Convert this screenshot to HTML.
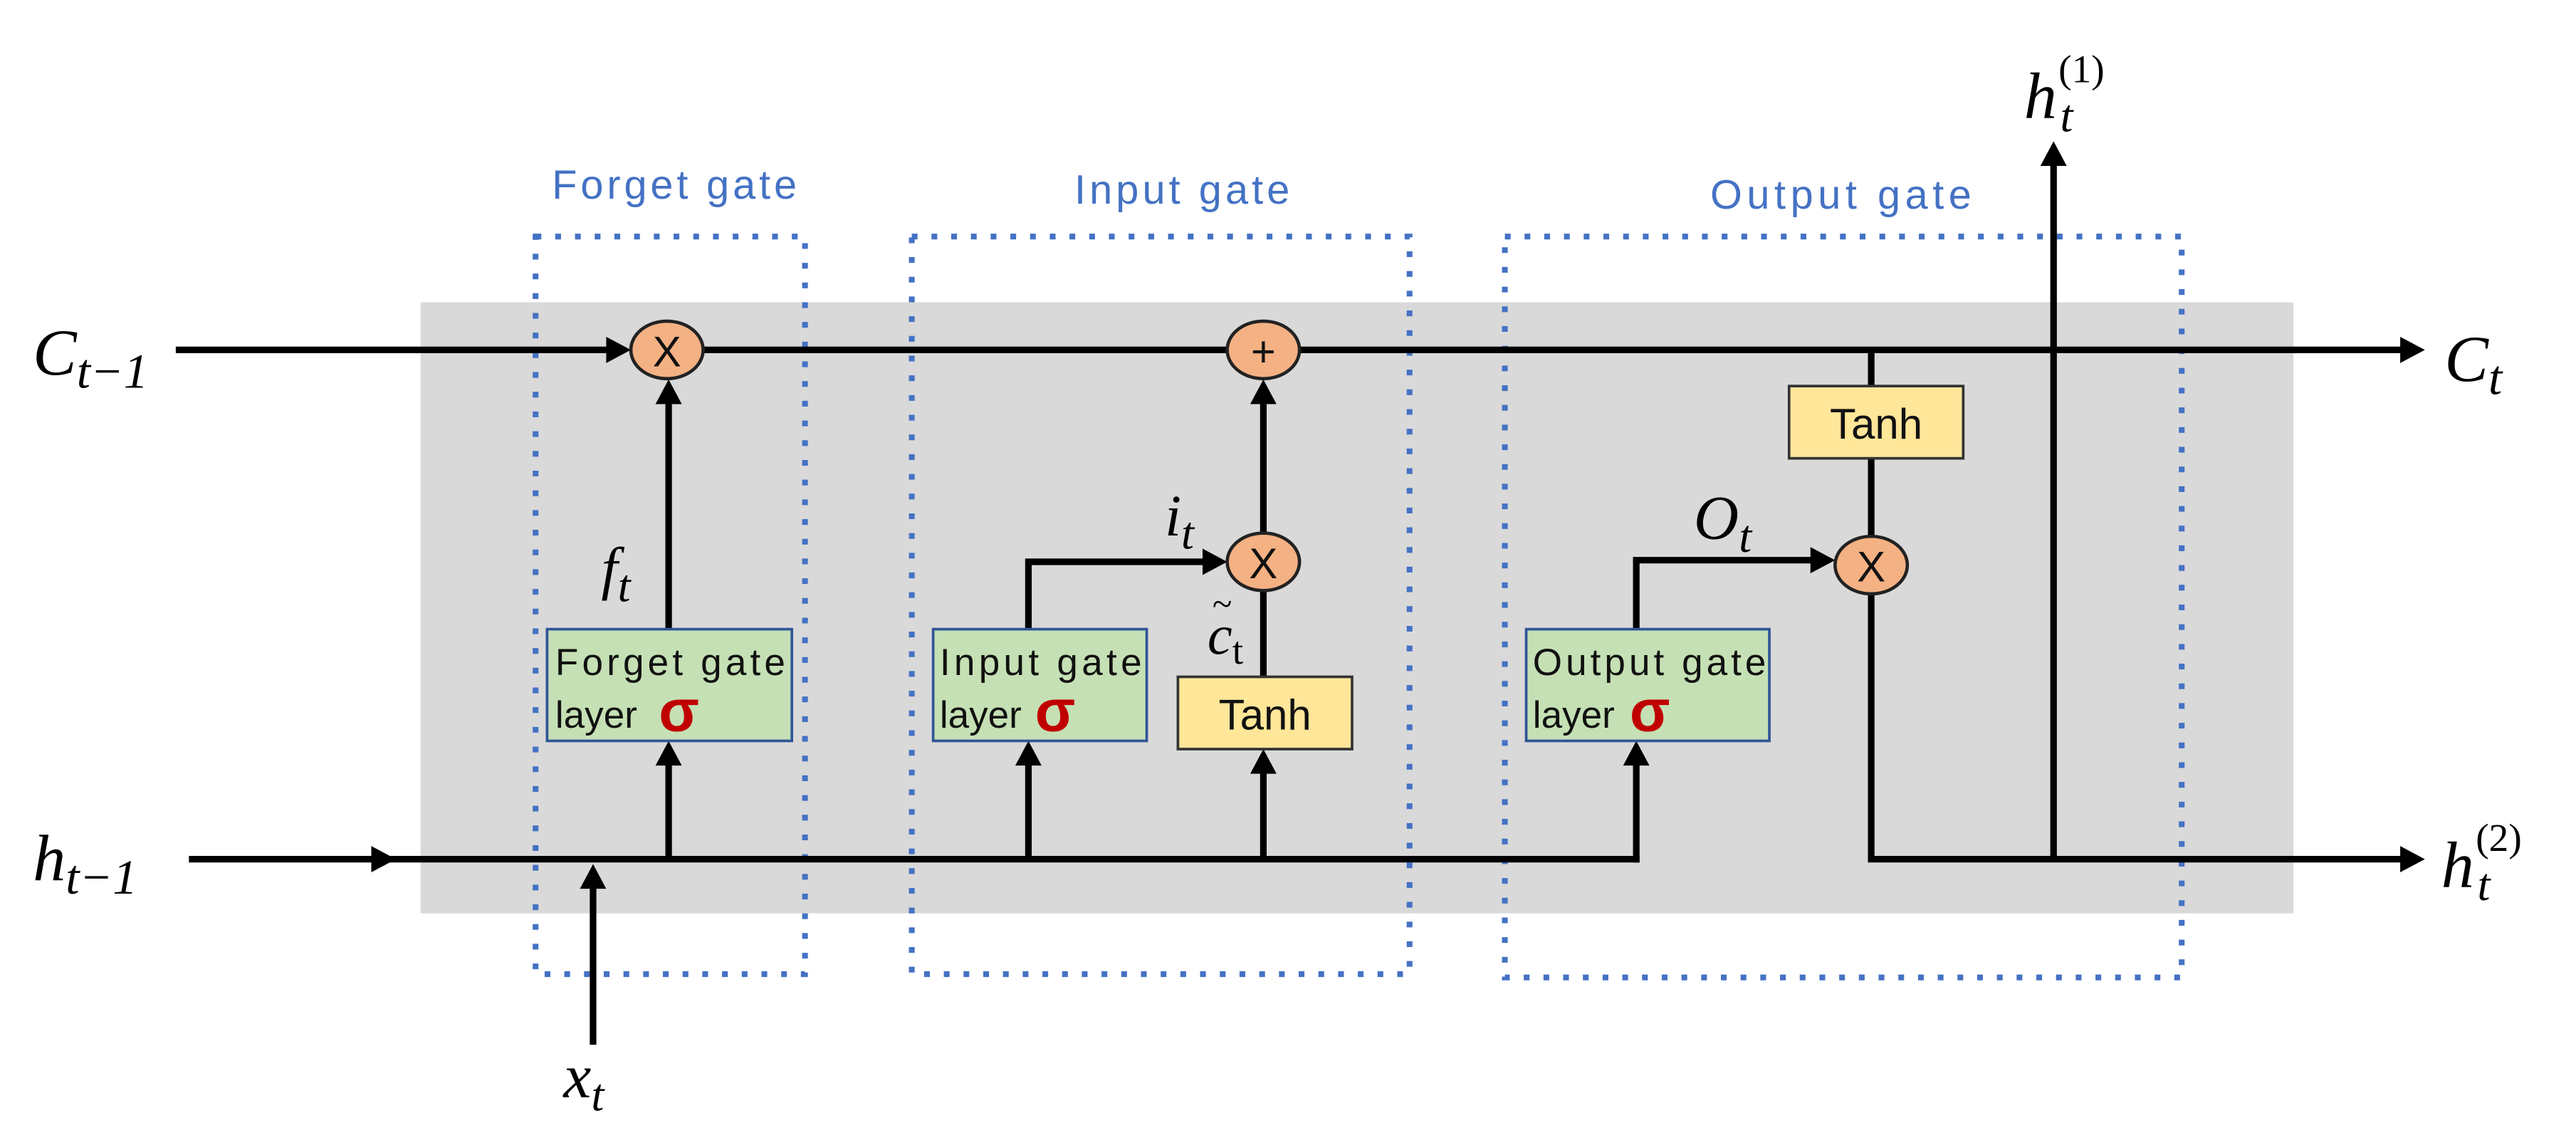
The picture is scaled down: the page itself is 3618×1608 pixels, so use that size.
<!DOCTYPE html>
<html><head><meta charset="utf-8"><style>
html,body{margin:0;padding:0;background:#fff;}
svg{display:block;}
.m{font-family:"Liberation Serif",serif;font-style:italic;fill:#000;}
.s{font-family:"Liberation Sans",sans-serif;fill:#111;}
.b{font-family:"Liberation Sans",sans-serif;fill:#4472c4;}
</style></head><body>
<svg width="3618" height="1608" viewBox="0 0 1568 697" preserveAspectRatio="none" xmlns="http://www.w3.org/2000/svg">
<rect x="0" y="0" width="1568" height="697" fill="#fff"/>
<rect x="256" y="184" width="1140" height="372" fill="#d9d9d9"/>

<g fill="none" stroke="#4472c4" stroke-width="3.5" stroke-dasharray="3.5 8.5">
<rect x="326" y="144" width="164" height="449"/>
<rect x="555" y="144" width="303" height="449"/>
<rect x="916" y="144" width="412" height="451"/>
</g>
<text class="b" x="336" y="121" font-size="25" textLength="149">Forget gate</text>
<text class="b" x="654" y="124" font-size="25" textLength="131">Input gate</text>
<text class="b" x="1041" y="127" font-size="25" textLength="159">Output gate</text>

<g stroke="#000" stroke-width="4" fill="none">
<line x1="107" y1="213" x2="372" y2="213"/>
<line x1="428" y1="213" x2="747" y2="213"/>
<line x1="791" y1="213" x2="1464" y2="213"/>
<line x1="115" y1="523" x2="998" y2="523"/>
<line x1="996" y1="525" x2="996" y2="464"/>
<line x1="1137" y1="523" x2="1464" y2="523"/>
<line x1="361" y1="636" x2="361" y2="538"/>
<line x1="407" y1="523" x2="407" y2="463"/>
<line x1="407" y1="383" x2="407" y2="243"/>
<line x1="626" y1="523" x2="626" y2="463"/>
<polyline points="626,383 626,342 733,342"/>
<line x1="769" y1="523" x2="769" y2="468"/>
<line x1="769" y1="412" x2="769" y2="360"/>
<line x1="769" y1="324" x2="769" y2="243"/>
<polyline points="996,383 996,341 1103,341"/>
<line x1="1139" y1="213" x2="1139" y2="235"/>
<line x1="1139" y1="279" x2="1139" y2="327"/>
<polyline points="1139,362 1139,523"/>
<line x1="1250" y1="523" x2="1250" y2="100"/>
</g>

<g fill="#000">
<polygon points="384,213 369,205 369,221"/>
<polygon points="1476,213 1461,205 1461,221"/>
<polygon points="241,523 226,515 226,531"/>
<polygon points="1476,523 1461,515 1461,531"/>
<polygon points="361,526 353,541 369,541"/>
<polygon points="407,451 399,466 415,466"/>
<polygon points="407,231 399,246 415,246"/>
<polygon points="626,451 618,466 634,466"/>
<polygon points="747,342 732,334 732,350"/>
<polygon points="769,456 761,471 777,471"/>
<polygon points="769,231 761,246 777,246"/>
<polygon points="996,451 988,466 1004,466"/>
<polygon points="1117,341 1102,333 1102,349"/>
<polygon points="1250,86 1242,101 1258,101"/>
</g>

<g fill="#f4b183" stroke="#222" stroke-width="2">
<ellipse cx="406" cy="213" rx="22" ry="17.5"/>
<ellipse cx="769" cy="213" rx="22" ry="17.5"/>
<ellipse cx="769" cy="342" rx="22" ry="17.5"/>
<ellipse cx="1139" cy="344" rx="22" ry="17.5"/>
</g>
<g class="s" font-size="26" text-anchor="middle">
<text x="406" y="223">X</text>
<text x="769" y="223">+</text>
<text x="769" y="352">X</text>
<text x="1139" y="354">X</text>
</g>

<g stroke="#2f5597" stroke-width="1.6">
<rect x="333" y="383" width="149" height="68" fill="#c5e0b4"/>
<rect x="568" y="383" width="130" height="68" fill="#c5e0b4"/>
<rect x="929" y="383" width="148" height="68" fill="#c5e0b4"/>
</g>
<g stroke="#333" stroke-width="1.6" fill="#ffe699">
<rect x="717" y="412" width="106" height="44"/>
<rect x="1089" y="235" width="106" height="44"/>
</g>
<g class="s" font-size="23">
<text x="338" y="411" textLength="140">Forget gate</text>
<text x="338" y="443">layer</text>
<text x="572" y="411" textLength="123">Input gate</text>
<text x="572" y="443">layer</text>
<text x="933" y="411" textLength="142">Output gate</text>
<text x="933" y="443">layer</text>
</g>
<g font-family="Liberation Sans,sans-serif" font-weight="bold" fill="#c00000" font-size="36">
<text x="401" y="445">σ</text>
<text x="630" y="445">σ</text>
<text x="992" y="445">σ</text>
</g>
<g class="s" font-size="26" text-anchor="middle">
<text x="770" y="444">Tanh</text>
<text x="1142" y="267">Tanh</text>
</g>

<g class="m">
<text x="20" y="228" font-size="40">C<tspan font-size="30" dy="8">t−1</tspan></text>
<text x="20" y="536" font-size="40">h<tspan font-size="30" dy="8">t−1</tspan></text>
<text x="343" y="668" font-size="38">x<tspan font-size="28" dy="8">t</tspan></text>
<text x="366" y="358" font-size="36">f<tspan font-size="28" dy="8">t</tspan></text>
<text x="709" y="326" font-size="36">i<tspan font-size="28" dy="8">t</tspan></text>
<text x="735" y="398" font-size="34">c<tspan font-size="24" dy="6" font-style="normal">t</tspan></text>
<text x="738" y="375" font-size="22" font-style="normal">~</text>
<text x="1031" y="328" font-size="38">O<tspan font-size="28" dy="8">t</tspan></text>
<text x="1488" y="232" font-size="40">C<tspan font-size="30" dy="8">t</tspan></text>
<text x="1232" y="72" font-size="40">h</text>
<text x="1254" y="80" font-size="28">t</text>
<text x="1253" y="50" font-size="24" font-style="normal">(1)</text>
<text x="1486" y="540" font-size="40">h</text>
<text x="1508" y="548" font-size="28">t</text>
<text x="1507" y="518" font-size="24" font-style="normal">(2)</text>
</g>
</svg>
</body></html>
